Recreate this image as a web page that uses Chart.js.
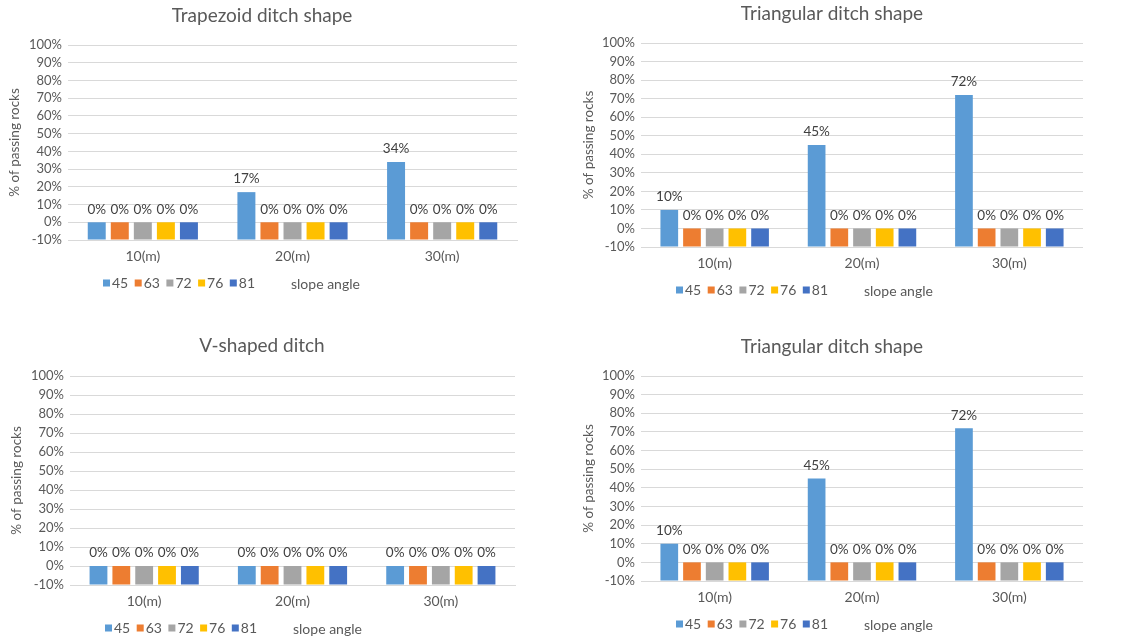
<!DOCTYPE html>
<html>
<head>
<meta charset="utf-8">
<script src="https://cdn.jsdelivr.net/npm/chart.js@4/dist/chart.umd.min.js"></script>
<style>
  html, body { margin: 0; padding: 0; background: #fff; }
  body { width: 1123px; height: 639px; position: relative; overflow: hidden; }
  .panel { position: absolute; }
</style>
</head>
<body>
<div class="panel" id="p1"><canvas id="c1"></canvas></div>
<div class="panel" id="p2"><canvas id="c2"></canvas></div>
<div class="panel" id="p3"><canvas id="c3"></canvas></div>
<div class="panel" id="p4"><canvas id="c4"></canvas></div>
<script>
// --- data ---
const categories = ['10(m)', '20(m)', '30(m)'];
const slopeAngles = ['45', '63', '72', '76', '81'];
const yTicks = [-10, 0, 10, 20, 30, 40, 50, 60, 70, 80, 90, 100];

// % of passing rocks, one row per slope angle
const trapezoidValues = [
    [0, 17, 34],
    [0, 0, 0],
    [0, 0, 0],
    [0, 0, 0],
    [0, 0, 0]
];
const triangularValues = [
    [10, 45, 72],
    [0, 0, 0],
    [0, 0, 0],
    [0, 0, 0],
    [0, 0, 0]
];
const vShapedValues = [
    [0, 0, 0],
    [0, 0, 0],
    [0, 0, 0],
    [0, 0, 0],
    [0, 0, 0]
];

const angleColors = ['#5B9BD5', '#ED7D31', '#A5A5A5', '#FFC000', '#4472C4'];
const FONT = "Lato, 'Open Sans', sans-serif";
const TEXT = '#595959';

// where each chart sits on the page and where its plot area should land
const panels = [
    { id: 'c1', title: 'Trapezoid ditch shape', values: trapezoidValues,
      box: { left: 0, top: 0, width: 520, height: 305 }, area: { left: 68, top: 45, right: 517, bottom: 240 }, titleY: 16, yTitleX: 15 },
    { id: 'c2', title: 'Triangular ditch shape', values: triangularValues,
      box: { left: 579, top: 0, width: 504, height: 305 }, area: { left: 641, top: 43, right: 1083, bottom: 247 }, titleY: 14, yTitleX: 589 },
    { id: 'c3', title: 'V-shaped ditch', values: vShapedValues,
      box: { left: 0, top: 325, width: 520, height: 314 }, area: { left: 70, top: 376, right: 515, bottom: 585 }, titleY: 346, yTitleX: 17 },
    { id: 'c4', title: 'Triangular ditch shape', values: triangularValues,
      box: { left: 579, top: 325, width: 504, height: 314 }, area: { left: 641, top: 376, right: 1083, bottom: 581 }, titleY: 347, yTitleX: 589 }
];

// value labels above each bar
const valueLabels = {
    id: 'valueLabels',
    afterDatasetsDraw(chart) {
        const ctx = chart.ctx;
        ctx.save();
        ctx.font = '13.5px ' + FONT;
        ctx.fillStyle = '#404040';
        ctx.textAlign = 'center';
        ctx.textBaseline = 'middle';
        chart.data.datasets.forEach((ds, i) => {
            chart.getDatasetMeta(i).data.forEach((bar, j) => {
                ctx.fillText(ds.data[j] + '%', bar.x, bar.y - 13);
            });
        });
        ctx.restore();
    }
};

// legend row under the axis, followed by the "slope angle" caption
const angleLegend = {
    id: 'angleLegend',
    afterDraw(chart) {
        const ctx = chart.ctx;
        const area = chart.chartArea;
        const y = area.bottom + 43;
        ctx.save();
        ctx.font = '14px ' + FONT;
        ctx.fillStyle = TEXT;
        ctx.textBaseline = 'middle';
        chart.data.datasets.forEach((ds, i) => {
            const x = area.left + 35 + i * 31.7;
            ctx.fillStyle = ds.backgroundColor;
            ctx.fillRect(x, y - 3.5, 7, 7);
            ctx.fillStyle = TEXT;
            ctx.fillText(ds.label, x + 9, y);
        });
        ctx.fillText('slope angle', area.left + 223, y + 1);
        ctx.restore();
    }
};

panels.forEach(p => {
    const wrap = document.getElementById(p.id).parentNode;
    wrap.style.left = p.box.left + 'px';
    wrap.style.top = p.box.top + 'px';
    wrap.style.width = p.box.width + 'px';
    wrap.style.height = p.box.height + 'px';

    const padLeft = p.yTitleX - p.box.left - 8;
    const yAxisWidth = p.area.left - p.box.left - padLeft;
    const xAxisHeight = 34;
    const titleSize = 19;
    const titlePadTop = p.titleY - p.box.top - titleSize * 0.6;
    const titlePadBottom = p.area.top - p.box.top - titlePadTop - titleSize * 1.2;

    new Chart(document.getElementById(p.id), {
        type: 'bar',
        data: {
            labels: categories,
            datasets: slopeAngles.map((angle, i) => ({
                label: angle,
                data: p.values[i],
                backgroundColor: angleColors[i],
                base: -10,
                categoryPercentage: 0.77,
                barPercentage: 0.78
            }))
        },
        options: {
            responsive: true,
            maintainAspectRatio: false,
            animation: false,
            layout: {
                padding: {
                    top: 0,
                    left: padLeft,
                    right: p.box.left + p.box.width - p.area.right,
                    bottom: p.box.top + p.box.height - p.area.bottom - xAxisHeight
                }
            },
            plugins: {
                legend: { display: false },
                tooltip: { enabled: false },
                title: {
                    display: true,
                    text: p.title,
                    color: TEXT,
                    font: { family: FONT, size: titleSize, weight: 'normal' },
                    padding: { top: titlePadTop, bottom: titlePadBottom }
                }
            },
            scales: {
                x: {
                    grid: { display: false, drawTicks: false },
                    border: { display: true, color: '#D9D9D9' },
                    ticks: { color: TEXT, padding: 8.5, font: { family: FONT, size: 14 } },
                    afterFit(scale) { scale.height = xAxisHeight; }
                },
                y: {
                    min: -10,
                    max: 100,
                    afterBuildTicks(scale) { scale.ticks = yTicks.map(v => ({ value: v })); },
                    grid: { color: '#D9D9D9', drawTicks: false },
                    border: { display: false },
                    ticks: {
                        color: TEXT,
                        padding: 6,
                        autoSkip: false,
                        font: { family: FONT, size: 13 },
                        callback: v => v + '%'
                    },
                    title: {
                        display: true,
                        text: '% of passing rocks',
                        color: TEXT,
                        padding: 0,
                        font: { family: FONT, size: 13.5 }
                    },
                    afterFit(scale) { scale.width = yAxisWidth; }
                }
            }
        },
        plugins: [valueLabels, angleLegend]
    });
});
</script>
</body>
</html>
